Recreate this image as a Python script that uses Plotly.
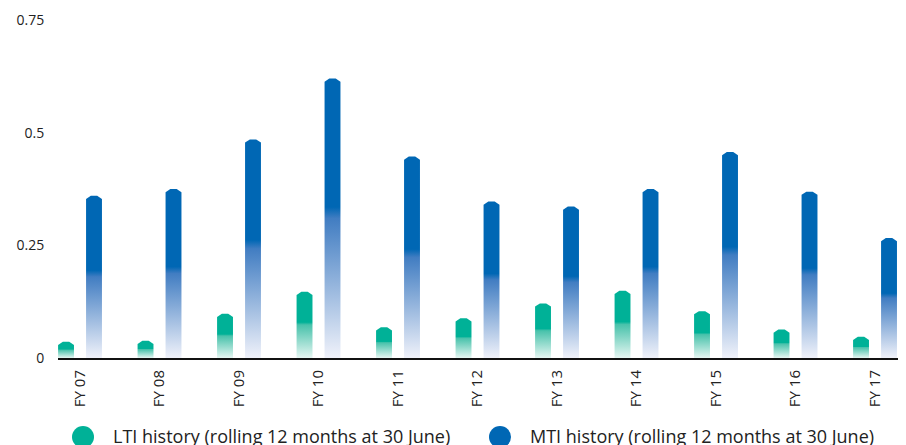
import plotly.graph_objects as go

# Financial years on the x axis
categories = ["FY 07", "FY 08", "FY 09", "FY 10", "FY 11", "FY 12",
              "FY 13", "FY 14", "FY 15", "FY 16", "FY 17"]

# LTI / MTI history (rolling 12 months at 30 June)
lti_values = [0.036, 0.038, 0.098, 0.147, 0.068, 0.088,
              0.121, 0.149, 0.104, 0.063, 0.047]
mti_values = [0.360, 0.375, 0.485, 0.620, 0.447, 0.347,
              0.336, 0.375, 0.457, 0.369, 0.266]

y_ticks = [0, 0.25, 0.5, 0.75]
y_tick_text = ["0", "0.25", "0.5", "0.75"]

series = [
    dict(name="LTI history (rolling 12 months at 30 June)", values=lti_values,
         offset=-0.176, solid="#00b197", mid="#48c2ab", pale="#e6f6f2"),
    dict(name="MTI history (rolling 12 months at 30 June)", values=mti_values,
         offset=0.176, solid="#0067b4", mid="#417dc2", pale="#f0f2fa"),
]

HALF_W = 0.1      # half bar width, in category units
ROOF = 0.007      # height of the pointed cap, in value units

fig = go.Figure()

for s in series:
    for i, v in enumerate(s["values"]):
        cx = i + s["offset"]
        x0, x1 = cx - HALF_W, cx + HALF_W
        xs = [x0, x0, x0 + HALF_W * 0.6, x1 - HALF_W * 0.6, x1, x1, x0]
        ys = [0, v - ROOF, v, v, v - ROOF, 0, 0]
        fig.add_trace(go.Scatter(
            x=xs, y=ys, mode="lines", fill="toself",
            line=dict(width=0, color="rgba(0,0,0,0)"),
            fillgradient=dict(
                type="vertical",
                colorscale=[[0, s["pale"]], [0.5, s["mid"]],
                            [0.54, s["solid"]], [1, s["solid"]]],
            ),
            hoverinfo="skip", showlegend=False,
        ))

# Legend: round swatches with labels under the axis
L, W_PLOT, TOP, H_PLOT = 58, 840, 20, 338


def px_x(p):
    return (p - L) / W_PLOT


def px_y(p):
    return (TOP + H_PLOT - p) / H_PLOT


for s, cx, tx in zip(series, [83, 500], [111, 528]):
    fig.add_shape(type="circle", xref="paper", yref="paper",
                  xsizemode="pixel", ysizemode="pixel",
                  xanchor=px_x(cx), yanchor=px_y(437),
                  x0=-11, x1=11, y0=-11, y1=11,
                  fillcolor=s["solid"], line=dict(width=0))
    fig.add_annotation(x=px_x(tx), y=px_y(436), xref="paper", yref="paper",
                       text=s["name"], showarrow=False,
                       xanchor="left", yanchor="middle",
                       font=dict(family="Open Sans", size=18, color="#222222"))

fig.update_layout(
    width=906, height=445,
    margin=dict(l=58, r=8, t=20, b=87),
    paper_bgcolor="white", plot_bgcolor="white",
    font=dict(family="Open Sans", size=14, color="#222222"),
    showlegend=False,
    xaxis=dict(
        range=[-0.277, 10.289],
        tickmode="array", tickvals=list(range(len(categories))),
        ticktext=categories, tickangle=-90,
        showgrid=False, zeroline=False,
        showline=True, linecolor="#111111", linewidth=2,
        ticks="outside", ticklen=4, tickcolor="rgba(0,0,0,0)",
        tickfont=dict(size=15),
    ),
    yaxis=dict(
        range=[0, 0.75],
        tickmode="array", tickvals=y_ticks, ticktext=y_tick_text,
        showgrid=False, zeroline=False, showline=False,
        ticks="outside", ticklen=10, tickcolor="rgba(0,0,0,0)",
        tickfont=dict(size=14),
    ),
)

fig.write_html("out.html")
